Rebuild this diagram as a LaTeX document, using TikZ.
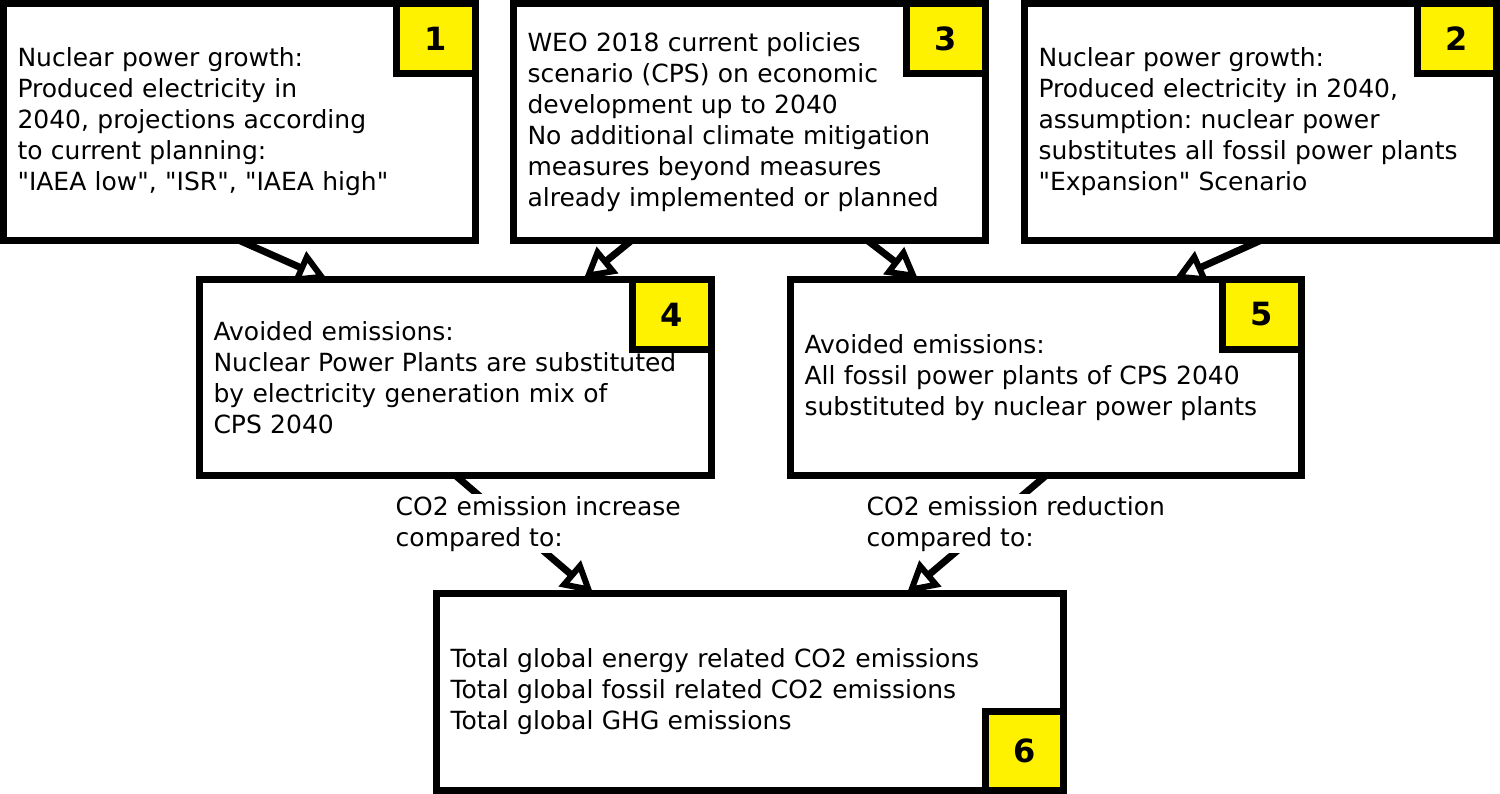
\documentclass[tikz,border=0pt]{standalone}
\usepackage{fontspec}
\setmainfont{DejaVu Sans}[Ligatures=TeXOff]
\frenchspacing
\usetikzlibrary{arrows.meta, calc}
\tikzstyle{block} = [rectangle, draw=black, line width=7pt, outer sep=0pt, fill=white, anchor=north west, inner xsep=14pt, inner ysep=0pt, align=left, font=\fontsize{25}{31}\selectfont]
\tikzstyle{tag} = [rectangle, draw=black, line width=7pt, outer sep=0pt, fill=yellow, anchor=north east, minimum width=79pt, minimum height=70pt, inner sep=0pt, font=\bfseries\fontsize{32}{32}\selectfont]
\tikzstyle{arrow} = [line width=7pt, -{Triangle[open, length=31pt, width=33pt, line width=6pt]}]
\tikzstyle{note} = [fill=white, inner sep=2pt, anchor=north west, align=left, font=\fontsize{25}{31}\selectfont]

\begin{document}
\begin{tikzpicture}[x=1pt, y=-1pt]
	\useasboundingbox (0,0) rectangle (1500,794);
	\node (b1) [block, text width=444pt, minimum height=237pt] at (3.5,3.5) {Nuclear power growth:\\Produced electricity in\\2040, projections according\\to current planning:\\"IAEA low", "ISR", "IAEA high"};
	\node (b3) [block, text width=444pt, minimum height=237pt] at (513.5,3.5) {WEO 2018 current policies\\scenario (CPS) on economic\\development up to 2040\\No additional climate mitigation\\measures beyond measures\\already implemented or planned};
	\node (b2) [block, text width=444pt, minimum height=237pt] at (1024.5,3.5) {Nuclear power growth:\\Produced electricity in 2040,\\assumption: nuclear power\\substitutes all fossil power plants\\"Expansion" Scenario};
	\node (b4) [block, text width=484pt, minimum height=196pt] at (199.5,279.5) {Avoided emissions:\\Nuclear Power Plants are substituted\\by electricity generation mix of\\CPS 2040};
	\node (b5) [block, text width=483pt, minimum height=196pt] at (790.5,279.5) {Avoided emissions:\\All fossil power plants of CPS 2040\\substituted by nuclear power plants};
	\node (b6) [block, text width=599pt, minimum height=197pt] at (436.5,593.5) {Total global energy related CO2 emissions\\Total global fossil related CO2 emissions\\Total global GHG emissions};
	\node (t1) [tag] at (b1.north east) {1};
	\node (t3) [tag] at (b3.north east) {3};
	\node (t2) [tag] at (b2.north east) {2};
	\node (t4) [tag] at (b4.north east) {4};
	\node (t5) [tag] at (b5.north east) {5};
	\node (t6) [tag, anchor=south east, minimum width=78pt, minimum height=79pt] at (b6.south east) {6};
\draw [arrow] (b1.south) -- ($(b4.north west)!0.25!(b4.north east)$);
\draw [arrow] ($(b3.south west)!0.25!(b3.south east)$) -- ($(b4.north west)!0.75!(b4.north east)$);
\draw [arrow] ($(b3.south west)!0.75!(b3.south east)$) -- ($(b5.north west)!0.25!(b5.north east)$);
\draw [arrow] (b2.south) -- ($(b5.north west)!0.75!(b5.north east)$);
\draw [arrow] (b4.south) -- ($(b6.north west)!0.25!(b6.north east)$);
\draw [arrow] (b5.south) -- ($(b6.north west)!0.75!(b6.north east)$);
	\node (inc) [note] at (393.5,494) {CO2 emission increase\\compared to:};
	\node (red) [note] at (864.5,494) {CO2 emission reduction\\compared to:};
\end{tikzpicture}
\end{document}
